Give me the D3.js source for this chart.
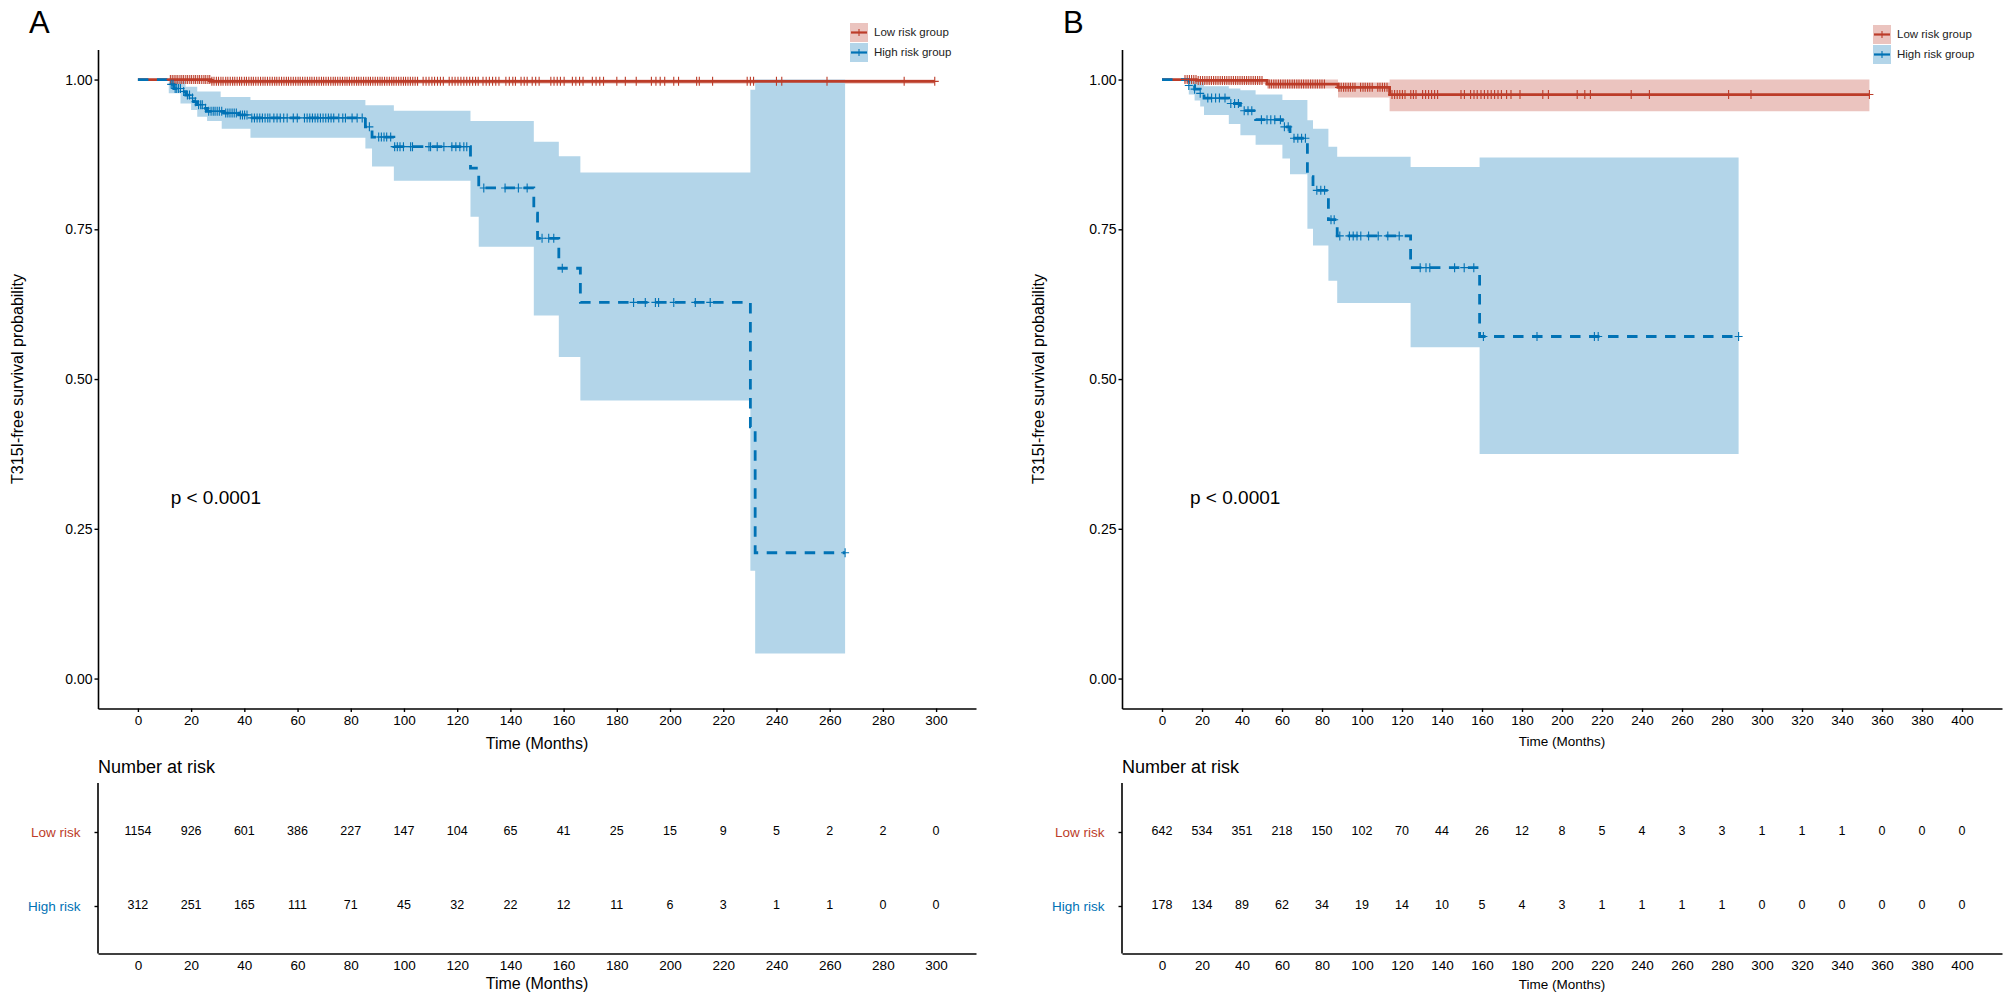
<!DOCTYPE html>
<html><head><meta charset="utf-8">
<script src="https://cdn.jsdelivr.net/npm/d3@7"></script>
<style>
body{margin:0;background:#fff;}
text{font-family:"Liberation Sans",Arial,Helvetica,sans-serif;}
</style>
</head><body>
<svg id="c" width="2007" height="998"></svg>
<script>
// ---------------- DATA ----------------
const groups = ["Low risk group", "High risk group"];
const tableLabels = ["Low risk", "High risk"];
const yTicks = [0, 0.25, 0.5, 0.75, 1];

// Panel A
const ticksA = [0,20,40,60,80,100,120,140,160,180,200,220,240,260,280,300];
const riskLowA  = [1154,926,601,386,227,147,104,65,41,25,15,9,5,2,2,0];
const riskHighA = [312,251,165,111,71,45,32,22,12,11,6,3,1,1,0,0];

const lowA_t = [0, 27.4];
const lowA_s = [1, 0.997];
const lowA_end = 299.5;
const lowA_bt = [0, 12, 27.4];
const lowA_lo = [1, 0.997, 0.993];
const lowA_up = [1, 1, 1];
const lowA_cens = [12.2,12.9,13.6,14.3,15.0,15.8,16.5,17.2,18.0,18.7,19.5,20.2,21.0,21.7,22.5,23.2,24.0,24.8,25.5,26.3,27.0,27.8,
  28.6,29.5,30.3,31.2,32.0,33.0,33.8,34.7,35.6,36.4,37.3,38.2,39.0,40.0,40.8,41.7,42.6,43.4,44.3,45.2,46.1,47.0,47.8,48.7,
  49.6,50.5,51.4,52.2,53.1,54.0,54.9,55.8,56.6,57.5,58.4,59.3,60.2,61.0,61.9,62.8,63.7,64.6,65.4,66.3,67.2,68.1,69.0,69.8,
  70.7,71.6,72.5,73.4,74.2,75.1,76.0,76.9,77.8,78.6,79.5,80.4,81.3,82.2,83.0,83.9,84.8,85.7,86.6,87.4,88.3,89.2,90.1,91.0,
  91.8,92.7,93.6,94.5,95.4,96.2,97.1,98.0,98.9,99.8,100.6,101.5,102.4,103.3,104.2,105.1,
  107.2,108.3,109.4,110.5,111.5,112.6,113.7,114.8,117.0,118.1,119.2,120.3,121.4,122.5,123.6,124.7,125.8,126.9,127.9,
  129.7,130.9,132.1,133.3,134.5,135.7,138.3,139.6,140.9,141.9,144.0,145.2,146.3,148.2,149.5,150.8,
  155.2,156.4,157.6,158.8,160.2,163.3,164.6,166.0,167.3,170.8,172.2,173.6,175.0,180,183.2,187.3,
  193.0,194.7,196.3,198.0,201.4,203.2,210,211,216,229,230.2,231.4,240,242,259,288,299.5];

const highA_t = [0,11.6,13.5,16.7,18,19.8,21,22.3,24.8,26,32.3,37.9,41.7,85.5,88,96.2,125,128.1,148.8,150.2,158.2,166.3,230.2,232];
const highA_s = [1,0.992,0.985,0.98,0.974,0.969,0.963,0.958,0.952,0.947,0.944,0.941,0.936,0.921,0.904,0.888,0.852,0.819,0.777,0.735,0.685,0.628,0.42,0.21];
const highA_end = 265.8;
const highA_bt = [0,11.6,16.0,17.9,20.0,22.3,26.0,31.1,31.5,42.3,85.5,88,96.2,125,128.1,148.8,158.2,166.3,230.2,232];
const highA_lo = [1,0.977,0.960,0.960,0.949,0.938,0.931,0.931,0.918,0.903,0.885,0.855,0.831,0.771,0.721,0.606,0.537,0.464,0.18,0.042];
const highA_up = [1,0.997,0.997,0.988,0.988,0.980,0.980,0.971,0.971,0.966,0.957,0.957,0.948,0.931,0.931,0.896,0.872,0.845,0.983,1.0];
const highA_cens = [12.5,13.2,14.0,14.6,15.3,16.0,17.2,18.6,19.4,20.5,21.6,22.8,23.6,24.2,25.4,26.6,
  27.5,28.3,29.0,29.8,30.6,31.5,33.0,33.8,34.6,35.4,36.2,37.0,38.5,39.3,40.1,41.0,
  42.8,43.8,44.8,45.8,46.8,47.8,48.8,49.6,51.1,52.3,53.5,54.8,56.1,58.4,59.9,
  62.6,63.6,64.6,65.6,66.6,67.6,68.6,69.6,70.6,71.6,72.6,73.6,75.5,77.0,78.0,80.5,82.4,84.3,
  87.0,90.5,91.5,92.5,93.5,95.0,96.5,97.5,98.5,99.8,102.5,103.2,109.4,110.0,112.5,115.0,118.0,119.5,121.0,122.5,123.6,
  130.0,138.0,143.0,146.3,151.9,154.4,156.3,159.5,186.3,190.7,194.5,195.7,201.4,209.5,215.1,265.8];

// Panel B
const ticksB = [0,20,40,60,80,100,120,140,160,180,200,220,240,260,280,300,320,340,360,380,400];
const riskLowB  = [642,534,351,218,150,102,70,44,26,12,8,5,4,3,3,1,1,1,0,0,0];
const riskHighB = [178,134,89,62,34,19,14,10,5,4,3,1,1,1,1,0,0,0,0,0,0];

const lowB_t = [0,17.2,52.5,88,113.8];
const lowB_s = [1,0.9985,0.9925,0.987,0.975];
const lowB_end = 353.7;
const lowB_bt = [0,11,17.2,52.5,88,113.8];
const lowB_lo = [1,0.995,0.993,0.985,0.970,0.947];
const lowB_up = [1,1,1,1,0.995,1];
const lowB_cens = [11.5,12.6,13.7,14.8,15.9,17.0,18.1,19.2,20.3,21.4,22.5,23.6,24.7,25.8,26.9,28.0,29.1,30.2,31.3,32.4,
  33.5,34.6,35.7,36.8,37.9,39.0,40.1,41.2,42.3,43.4,44.5,45.6,46.7,47.8,48.9,50.0,
  53.6,54.7,55.9,57.0,58.2,59.3,60.5,61.6,62.8,63.9,65.1,66.2,67.4,68.5,69.7,70.8,72.0,73.1,74.3,75.4,76.6,77.7,78.9,80.0,81.2,
  88.5,89.6,90.8,91.9,93.1,94.2,95.4,96.5,99.3,100.5,101.6,102.8,103.9,105.1,107.9,109.0,110.2,111.3,112.5,
  115.0,116.3,117.6,118.9,120.2,121.5,124.4,125.7,127.0,130.3,131.8,133.3,134.8,136.3,137.8,
  149.5,151.2,154.3,156.0,157.6,159.5,161.2,162.9,164.6,166.3,168.0,169.7,172.3,174.5,179,190.4,193.2,
  207.6,211.4,214.2,234.6,243.7,283.3,294.5,353.7];

const highB_t = [0,13.4,16.3,19.1,21,33.4,39.2,46.8,60.2,64,72.7,75.5,83.2,87.6,124.3,158.8];
const highB_s = [1,0.99,0.984,0.977,0.969,0.96,0.948,0.933,0.921,0.902,0.838,0.815,0.766,0.739,0.686,0.571];
const highB_end = 288.3;
const highB_bt = [0,13.4,16.3,19.1,21,33.4,39.2,46.8,60.2,64,72.7,75.5,83.2,87.6,124.3,158.8];
const highB_lo = [1,0.975,0.965,0.955,0.941,0.926,0.907,0.891,0.868,0.842,0.751,0.723,0.664,0.627,0.553,0.375];
const highB_up = [1,1.0,0.998,0.995,0.989,0.985,0.982,0.975,0.966,0.966,0.932,0.918,0.888,0.871,0.854,0.870];
const highB_cens = [13.4,16.3,19.1,22.9,24.8,26.8,28.7,31.5,34.4,36.3,38.2,41.1,43.0,44.9,49.7,52.5,54.4,56.4,59.2,
  61.2,63.1,66.0,67.9,69.8,71.7,77.4,79.4,81.3,84.5,86.1,88.9,93.7,95.6,97.5,99.4,103.3,108.1,112.9,118.6,
  129.1,132.0,133.9,146.3,151.1,155.9,160.7,187.5,216.2,218.1,288.3];

// ---------------- DRAWING ----------------
const RED = "#BC3C29", BLUE = "#0072B5";
const RED_F = "#EBC4BF", BLUE_F = "#B3D5E9";
const svg = d3.select("#c");

function stepVal(ts, ss, t){ let v = ss[0]; for(let i=0;i<ts.length;i++){ if(ts[i] <= t) v = ss[i]; } return v; }

function drawPanel(o){
  const x = d3.scaleLinear().domain(o.xdom).range(o.xrange);
  const y = d3.scaleLinear().domain([-0.05, 1.05]).range([708.5, 49.6]);
  const g = svg.append("g");

  const area = d3.area().curve(d3.curveStepAfter).x(d=>x(d.t)).y0(d=>y(d.lo)).y1(d=>y(d.up));
  const line = d3.line().curve(d3.curveStepAfter).x(d=>x(d.t)).y(d=>y(d.s));

  o.series.forEach(s=>{
    const bd = s.bt.map((t,i)=>({t, lo:s.lo[i], up:s.up[i]}));
    bd.push({t:s.end, lo:s.lo[s.lo.length-1], up:s.up[s.up.length-1]});
    g.append("path").datum(bd).attr("d", area).attr("fill", s.fill).attr("stroke","none");
  });
  o.series.forEach(s=>{
    const ld = s.t.map((t,i)=>({t, s:s.s[i]}));
    ld.push({t:s.end, s:s.s[s.s.length-1]});
    g.append("path").datum(ld).attr("d", line).attr("fill","none").attr("stroke", s.color)
      .attr("stroke-width", 2.8).attr("stroke-dasharray", s.dash || null);
  });
  o.series.forEach(s=>{
    g.append("g").selectAll("path").data(s.cens).join("path")
      .attr("d", t=>{ const px=x(t), py=y(stepVal(s.t,s.s,t)); return `M${px-4},${py}H${px+4}M${px},${py-4.5}V${py+4.5}`; })
      .attr("stroke", s.color).attr("stroke-width", 1.1).attr("fill","none");
  });

  // axes
  const ya = g.append("g").attr("transform", `translate(${o.xrange[0]},0)`)
    .call(d3.axisLeft(y).tickValues(yTicks).tickFormat(d3.format(".2f")).tickSize(3.5).tickPadding(2).tickSizeOuter(0));
  const xa = g.append("g").attr("transform", `translate(0,708.5)`)
    .call(d3.axisBottom(x).tickValues(o.ticks).tickSize(3.5).tickPadding(3).tickSizeOuter(0));
  [ya, xa].forEach(a=>{
    a.select(".domain").attr("stroke","#000").attr("stroke-width",1.6);
    a.selectAll(".tick line").attr("stroke","#000").attr("stroke-width",1.4);
    a.selectAll(".tick text").attr("fill","#000").style("font-size","13.5px");
  });
  ya.selectAll(".tick text").style("font-size","14px");

  g.append("text").attr("transform", `translate(${o.ylabX},379) rotate(-90)`).attr("text-anchor","middle")
    .attr("dominant-baseline","middle").style("font-size","16px").text("T315I-free survival probability");
  g.append("text").attr("x", (x(o.ticks[0])+x(o.ticks[o.ticks.length-1]))/2).attr("y", o.xlabY).attr("text-anchor","middle")
    .attr("dominant-baseline","middle").style("font-size", o.xlabSize).text("Time (Months)");
  g.append("text").attr("x", x(o.pX)).attr("y", y(0.3)).attr("dominant-baseline","middle")
    .style("font-size","19px").text("p < 0.0001");
  g.append("text").attr("x", o.letterX).attr("y", 33).style("font-size","31px").text(o.letter);

  // legend
  const lg = g.append("g").attr("transform", `translate(${o.legX},${o.legY})`);
  o.series.forEach((s,i)=>{
    const yy = i*20;
    lg.append("rect").attr("x",0).attr("y",yy).attr("width",18).attr("height",19).attr("fill", s.fill);
    lg.append("line").attr("x1",1).attr("x2",17).attr("y1",yy+9.5).attr("y2",yy+9.5).attr("stroke",s.color).attr("stroke-width",2.2);
    lg.append("line").attr("x1",9).attr("x2",9).attr("y1",yy+6).attr("y2",yy+13).attr("stroke",s.color).attr("stroke-width",1.1);
    lg.append("text").attr("x",24).attr("y",yy+9.5).attr("dominant-baseline","middle").style("font-size","11.5px")
      .attr("fill","#222").text(groups[i]);
  });

  // risk table
  const tg = svg.append("g");
  const rowY = [832, 906];
  tg.append("text").attr("x", o.xrange[0]).attr("y", 768).attr("dominant-baseline","middle")
    .style("font-size","18px").text("Number at risk");
  const ry = d3.scalePoint().domain(tableLabels).range(rowY);
  const tya = tg.append("g").attr("transform", `translate(${o.xrange[0]},0)`)
    .call(d3.axisLeft(ry).tickSize(3.5).tickPadding(14).tickSizeOuter(0));
  tya.select(".domain").attr("d", `M0,783V953.5`);
  const txa = tg.append("g").attr("transform", `translate(0,953.5)`)
    .call(d3.axisBottom(x).tickValues(o.ticks).tickSize(0).tickPadding(7).tickSizeOuter(0));
  [tya, txa].forEach(a=>{
    a.select(".domain").attr("stroke","#000").attr("stroke-width",1.6);
    a.selectAll(".tick line").attr("stroke","#000").attr("stroke-width",1.4);
    a.selectAll(".tick text").style("font-size","13.5px").attr("fill","#000");
  });
  tya.selectAll(".tick text").attr("fill",(d,i)=> i===0 ? RED : BLUE).style("font-size","13.5px");
  [o.riskLow, o.riskHigh].forEach((arr,k)=>{
    tg.append("g").selectAll("text").data(arr).join("text")
      .attr("x",(d,i)=>x(o.ticks[i])).attr("y", rowY[k]).attr("text-anchor","middle").attr("dominant-baseline","middle")
      .style("font-size","12.5px").text(d=>d);
  });
  tg.append("text").attr("x", (x(o.ticks[0])+x(o.ticks[o.ticks.length-1]))/2).attr("y", 985).attr("text-anchor","middle")
    .attr("dominant-baseline","middle").style("font-size", o.xlabSize).text("Time (Months)");
}

drawPanel({
  letter:"A", letterX:29, xdom:[-15,315], xrange:[98,976], ticks:ticksA, ylabX:19, xlabY:745, xlabSize:"16px",
  pX:12.3, legX:850, legY:23, riskLow:riskLowA, riskHigh:riskHighA,
  series:[
    {t:lowA_t, s:lowA_s, end:lowA_end, bt:lowA_bt, lo:lowA_lo, up:lowA_up, cens:lowA_cens, color:RED, fill:RED_F},
    {t:highA_t, s:highA_s, end:highA_end, bt:highA_bt, lo:highA_lo, up:highA_up, cens:highA_cens, color:BLUE, fill:BLUE_F, dash:"10.5,8.5"}
  ]
});
drawPanel({
  letter:"B", letterX:1063, xdom:[-20,420], xrange:[1122,2002], ticks:ticksB, ylabX:1040, xlabY:742, xlabSize:"13.5px",
  pX:14, legX:1873, legY:25, riskLow:riskLowB, riskHigh:riskHighB,
  series:[
    {t:lowB_t, s:lowB_s, end:lowB_end, bt:lowB_bt, lo:lowB_lo, up:lowB_up, cens:lowB_cens, color:RED, fill:RED_F},
    {t:highB_t, s:highB_s, end:highB_end, bt:highB_bt, lo:highB_lo, up:highB_up, cens:highB_cens, color:BLUE, fill:BLUE_F, dash:"10.5,8.5"}
  ]
});
</script>
</body></html>
